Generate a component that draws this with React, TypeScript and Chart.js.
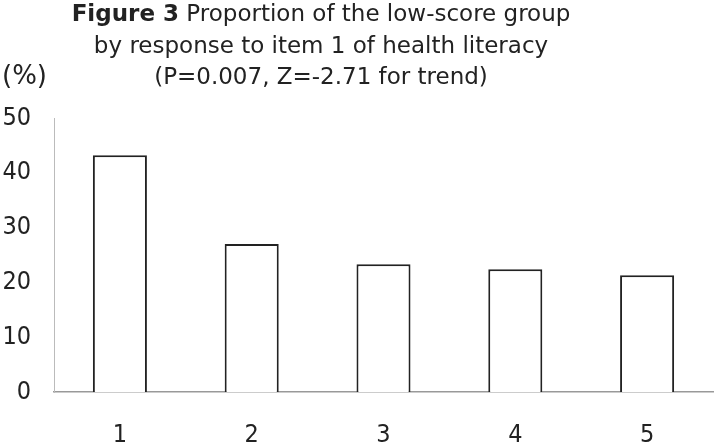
import React, { useEffect, useRef } from "react";
import { Chart, registerables } from "chart.js";

Chart.register(...registerables);

const categories = ["1", "2", "3", "4", "5"];
const lowScorePct = [43.2, 27.0, 23.3, 22.4, 21.3];
const yTicks = [0, 10, 20, 30, 40, 50];
const titleBold = "Figure 3";
const titleRest = " Proportion of the low-score group";
const titleLine2 = "by response to item 1 of health literacy";
const titleLine3 = "(P=0.007, Z=-2.71 for trend)";
const unitLabel = "(%)";

const TICK_FONT = "'DejaVu Sans Condensed', 'DejaVu Sans', sans-serif";
const TITLE_FONT = "'DejaVu Sans', sans-serif";
const TEXT = "#222";

const titlePlugin = {
  id: "customTitle",
  afterDraw(chart: any) {
    const ctx = chart.ctx;
    ctx.save();
    ctx.fillStyle = TEXT;
    ctx.textBaseline = "alphabetic";
    const cx = 321;
    ctx.font = `bold 23px ${TITLE_FONT}`;
    const wb = ctx.measureText(titleBold).width;
    ctx.font = `23px ${TITLE_FONT}`;
    const wr = ctx.measureText(titleRest).width;
    const x = cx - (wb + wr) / 2;
    ctx.textAlign = "left";
    ctx.font = `bold 23px ${TITLE_FONT}`;
    ctx.fillText(titleBold, x, 21);
    ctx.font = `23px ${TITLE_FONT}`;
    ctx.fillText(titleRest, x + wb, 21);
    ctx.textAlign = "center";
    ctx.fillText(titleLine2, cx, 53);
    ctx.fillText(titleLine3, cx, 84);
    ctx.textAlign = "left";
    ctx.font = `26px ${TITLE_FONT}`;
    ctx.fillText(unitLabel, 2, 84);
    ctx.restore();
  },
};

export default function App() {
  const ref = useRef<HTMLCanvasElement | null>(null);
  useEffect(() => {
    document.body.style.margin = "0";
    const canvas = ref.current!;
    const chart = new Chart(canvas, {
      type: "bar",
      data: {
        labels: categories,
        datasets: [
          {
            data: lowScorePct,
            backgroundColor: "#ffffff",
            borderColor: "#222222",
            borderWidth: 2,
            barPercentage: 0.41,
            categoryPercentage: 1,
          },
        ],
      },
      options: {
        animation: false,
        responsive: false,
        maintainAspectRatio: false,
        devicePixelRatio: 1,
        layout: { padding: { top: 118, right: 6, left: 0, bottom: 0 } },
        plugins: {
          legend: { display: false },
          title: { display: false },
          tooltip: { enabled: false },
        },
        scales: {
          x: {
            grid: { display: false, drawTicks: false },
            border: { display: true, color: "#999", width: 1.5 },
            ticks: {
              color: TEXT,
              font: { family: TICK_FONT, size: 25 },
              padding: 28,
            },
            afterFit(scale: any) {
              scale.height = 52;
            },
          },
          y: {
            min: 0,
            max: 50,
            afterBuildTicks(scale: any) {
              scale.ticks = yTicks.map((v) => ({ value: v }));
            },
            grid: { display: false, drawTicks: false },
            border: { display: true, color: "#bbb", width: 1 },
            ticks: {
              color: TEXT,
              font: { family: TICK_FONT, size: 25 },
              padding: 23,
            },
            afterFit(scale: any) {
              scale.width = 54;
            },
          },
        },
      },
      plugins: [titlePlugin],
    } as any);
    return () => chart.destroy();
  }, []);
  return (
    <div style={{ width: 719, height: 444, position: "relative" }}>
      <canvas ref={ref} width={719} height={444} style={{ display: "block" }} />
    </div>
  );
}
